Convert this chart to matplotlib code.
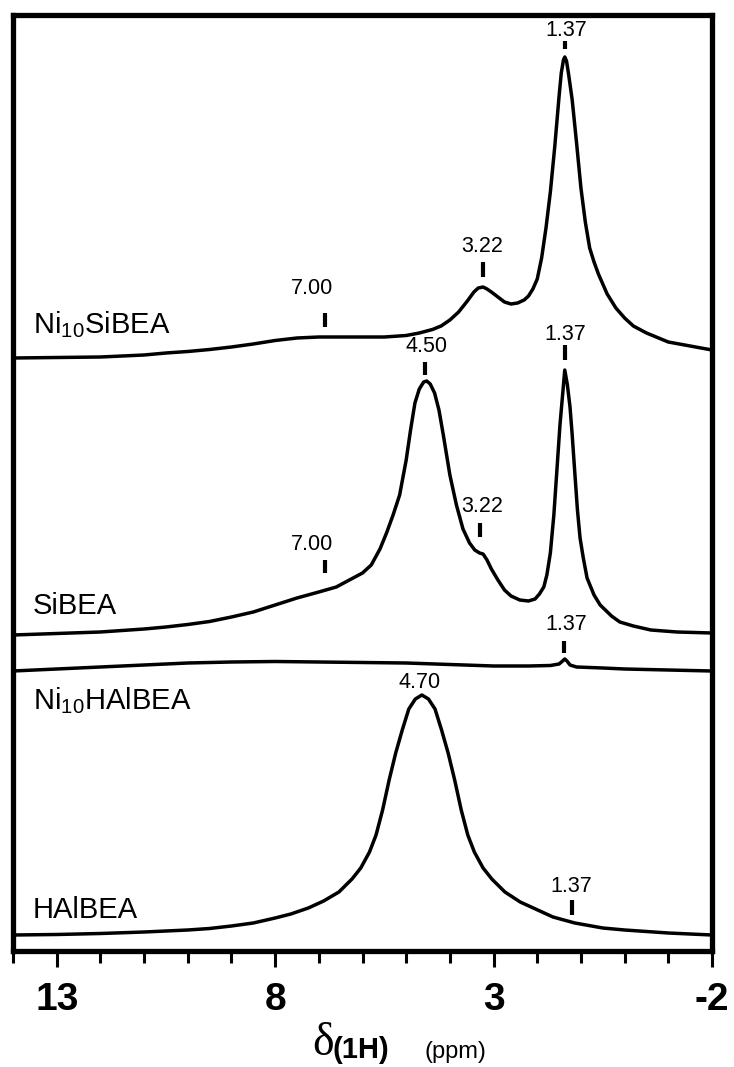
import matplotlib
matplotlib.use("Agg")
import matplotlib.pyplot as plt
from matplotlib.ticker import FixedLocator, MultipleLocator

plt.rcParams['font.family'] = ['Liberation Sans', 'DejaVu Sans']
plt.rcParams['mathtext.fontset'] = 'custom'
plt.rcParams['mathtext.rm'] = 'Liberation Sans'
plt.rcParams['mathtext.it'] = 'Liberation Sans:italic'
plt.rcParams['mathtext.bf'] = 'Liberation Sans:bold'

# ---------------- data ----------------
sample_names = ["Ni$_{10}$SiBEA", "SiBEA", "Ni$_{10}$HAlBEA", "HAlBEA"]

ppm_ni_sibea = [14.0, 13.0, 12.0, 11.0, 10.5, 10.0, 9.5, 9.0, 8.5, 8.0, 7.5, 7.0, 6.5,
                6.0, 5.5, 5.0, 4.7, 4.4, 4.2, 4.0, 3.8, 3.6, 3.45, 3.35, 3.24, 3.15,
                3.05, 2.9, 2.75, 2.6, 2.45, 2.3, 2.2, 2.1, 2.0, 1.9, 1.8, 1.7, 1.6,
                1.5, 1.45, 1.40, 1.37, 1.33, 1.28, 1.2, 1.1, 1.0, 0.9, 0.8, 0.7,
                0.6, 0.4, 0.2, 0.0, -0.2, -0.5, -1.0, -1.5, -2.0]
int_ni_sibea = [0, 0.5, 1, 3, 5, 6.5, 8.5, 11, 14, 17.5, 20, 21, 21,
                21, 21, 22.5, 25, 28.5, 32, 38, 46, 57, 66, 70, 71, 69,
                66, 61, 56, 54, 55, 58, 62, 69, 79, 100, 130, 166, 211,
                262, 285, 298, 301, 297, 283, 258, 215, 170, 136, 110, 96,
                84, 64, 50, 40, 32, 25, 16, 12, 8]

ppm_sibea = [14.0, 13.0, 12.0, 11.0, 10.5, 10.0, 9.5, 9.0, 8.5, 8.0, 7.5, 7.0, 6.6,
             6.3, 6.0, 5.8, 5.6, 5.45, 5.3, 5.15, 5.0, 4.9, 4.8, 4.7, 4.6, 4.53,
             4.45, 4.35, 4.25, 4.15, 4.0, 3.85, 3.7, 3.55, 3.43, 3.32, 3.24, 3.15,
             3.05, 2.9, 2.75, 2.6, 2.4, 2.2, 2.05, 1.95, 1.85, 1.78, 1.7, 1.62,
             1.55, 1.48, 1.42, 1.37, 1.31, 1.25, 1.2, 1.14, 1.08, 1.02, 0.95,
             0.86, 0.7, 0.56, 0.3, 0.11, -0.2, -0.6, -1.2, -2.0]
int_sibea = [0, 1.5, 3, 6, 8, 10.5, 13.5, 18, 23, 30, 37, 43, 48,
             55, 62, 70, 86, 102, 120, 140, 175, 205, 232, 246, 253, 254,
             251, 242, 225, 200, 160, 130, 106, 92, 85, 82, 81, 75,
             66, 55, 45, 39, 35, 34, 36, 41, 48, 60, 82, 120,
             165, 210, 240, 265, 250, 228, 200, 162, 125, 97, 78,
             57, 40, 30, 19, 13, 9, 5, 3, 2]

ppm_ni_halbea = [14.0, 13.0, 12.0, 11.0, 10.0, 9.0, 8.0, 7.0, 6.0, 5.0, 4.0, 3.0,
                 2.2, 1.7, 1.5, 1.42, 1.37, 1.32, 1.25, 1.1, 0.5, 0.0, -1.0, -2.0]
int_ni_halbea = [0, 2, 4, 6, 8, 9, 9.5, 9, 8.5, 8, 6.5, 5,
                 5, 5.5, 7, 10, 12, 10, 6, 4, 3, 2, 1, 0]

ppm_halbea = [14.0, 13.0, 12.0, 11.0, 10.0, 9.5, 9.0, 8.5, 8.0, 7.64, 7.24, 6.89,
              6.54, 6.24, 6.04, 5.84, 5.69, 5.54, 5.39, 5.24, 5.09, 4.94, 4.79,
              4.64, 4.49, 4.34, 4.19, 4.04, 3.89, 3.74, 3.59, 3.44, 3.24, 3.04,
              2.74, 2.39, 2.04, 1.64, 1.14, 0.5, 0.0, -1.0, -2.0]
int_halbea = [0, 0.5, 1.5, 3, 5, 6.5, 9, 12, 17, 21, 27, 34,
              43, 56, 67, 83, 100, 125, 155, 182, 205, 226, 236,
              240, 236, 226, 205, 182, 155, 125, 100, 83, 67, 56,
              43, 33, 26, 18, 12, 7, 5, 2, 0]

spectra_ppm = [ppm_ni_sibea, ppm_sibea, ppm_ni_halbea, ppm_halbea]
spectra_int = [int_ni_sibea, int_sibea, int_ni_halbea, int_halbea]
offsets = [593, 316, 280, 16]

# peak annotations: label, text ppm, text y, marker ppm, marker y0, marker y1
peak_labels = ["1.37", "3.22", "7.00", "4.50", "1.37", "3.22", "7.00", "1.37", "4.70", "1.37"]
label_ppm = [1.34, 3.25, 7.16, 4.53, 1.37, 3.27, 7.16, 1.34, 4.69, 1.23]
label_y = [921, 705, 662, 604, 616, 444, 406, 326, 269, 65]
marker_ppm = [1.37, 3.25, 6.86, 4.57, 1.37, 3.31, 6.86, 1.39, None, 1.21]
marker_y0 = [902, 674, 624, 576, 591, 414, 378, 298, None, 36]
marker_y1 = [910, 689, 638, 589, 606, 428, 391, 310, None, 51]

name_ppm = 13.55
name_y = [618, 337, 242, 33]

major_ticks = [13, 8, 3, -2]

# ---------------- figure ----------------
W, H = 734, 1067
fig = plt.figure(figsize=(W / 100, H / 100), dpi=100)
ax = fig.add_axes([13 / W, (H - 951) / H, (712 - 13) / W, (951 - 15) / H])

for p, s, off in zip(spectra_ppm, spectra_int, offsets):
    ax.plot(p, [v + off for v in s], color='black', lw=2.5,
            solid_joinstyle='round', solid_capstyle='round')

for lab, lp, ly, mp, m0, m1 in zip(peak_labels, label_ppm, label_y,
                                   marker_ppm, marker_y0, marker_y1):
    ax.text(lp, ly, lab, ha='center', va='center', fontsize=15.5, color='black')
    if mp is not None:
        ax.plot([mp, mp], [m0, m1], color='black', lw=3, solid_capstyle='butt')

for nm, ny in zip(sample_names, name_y):
    ax.text(name_ppm, ny, nm, ha='left', va='baseline', fontsize=21, color='black')

ax.set_xlim(14.0, -2.0)
ax.set_ylim(0, 936)
ax.xaxis.set_major_locator(FixedLocator(major_ticks))
ax.xaxis.set_minor_locator(MultipleLocator(1))
ax.set_xticklabels([str(t) for t in major_ticks], fontsize=28, fontweight='bold')
ax.tick_params(axis='x', which='major', direction='out', length=11.5, width=2.2, pad=11)
ax.tick_params(axis='x', which='minor', direction='out', length=8.5, width=2.2)
ax.set_yticks([])
for sp in ax.spines.values():
    sp.set_linewidth(3.8)

fig.text(312 / W, 1 - 1065 / H, "δ", fontsize=33, family='Liberation Serif',
         ha='left', va='bottom')
fig.text(333 / W, 1 - 1058 / H, "(1H)", fontsize=21, fontweight='bold',
         ha='left', va='baseline')
fig.text(425 / W, 1 - 1058 / H, "(ppm)", fontsize=17, ha='left', va='baseline')

fig.savefig("out.png", dpi=100)
